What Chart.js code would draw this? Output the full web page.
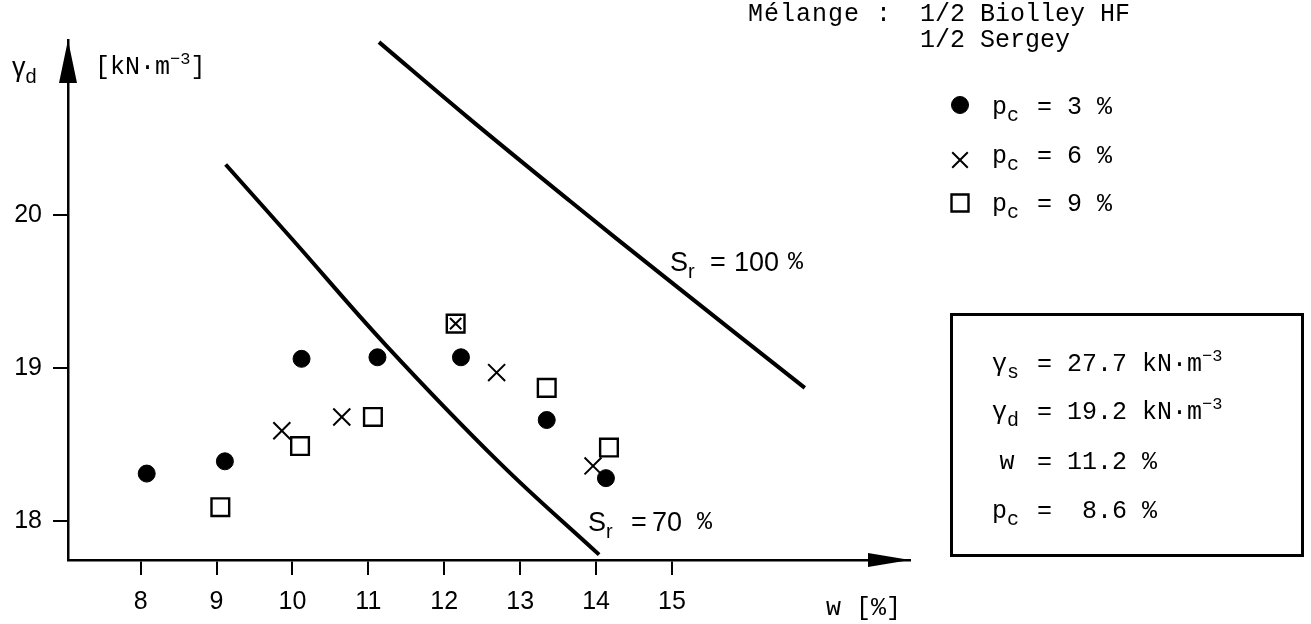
<!DOCTYPE html>
<html>
<head>
<meta charset="utf-8">
<title>Mélange 1/2 Biolley HF - 1/2 Sergey</title>
<script src="https://cdn.jsdelivr.net/npm/chart.js@4.4.0/dist/chart.umd.min.js"></script>
<style>
  html, body { margin: 0; padding: 0; background: #fff; }
  #wrap { position: relative; width: 1311px; height: 624px; overflow: hidden; }
  #chart { position: absolute; left: 0; top: 0; }
  .t { position: absolute; white-space: pre; line-height: 1; color: #000; }
  .mono { font-family: 'Liberation Mono', 'DejaVu Sans Mono', monospace; font-size: 25px; }
  .sans { font-family: 'Liberation Sans', Arial, sans-serif; font-size: 27px; }
  .sb { display: inline-block; width: 15px; font-size: 20px; position: relative; top: 7px; }
  .sp { font-size: 17px; position: relative; top: -10px; }
  #box { position: absolute; left: 950px; top: 313px; width: 354px; height: 244px;
         border: 3px solid #000; box-sizing: border-box; }
</style>
</head>
<body>
<div id="wrap">
  <canvas id="chart" width="1311" height="624"></canvas>
  <div id="box"></div>
</div>
<script>
// axis ticks
const xTicks = [8, 9, 10, 11, 12, 13, 14, 15];
const yTicks = [18, 19, 20];

// p_c = 3 %
const wPc3 = [8.08, 9.11, 10.12, 11.12, 12.22, 13.35, 14.13];
const gdPc3 = [18.31, 18.39, 19.06, 19.07, 19.07, 18.66, 18.28];

// p_c = 6 %  (the one at 12.15 sits inside a square)
const wPc6 = [9.86, 10.65, 12.15, 12.69, 13.96];
const gdPc6 = [18.59, 18.68, 19.29, 18.97, 18.36];

// p_c = 9 %
const wPc9 = [9.05, 10.10, 11.06, 12.15, 13.35, 14.17];
const gdPc9 = [18.09, 18.49, 18.68, 19.29, 18.87, 18.48];

// saturation curves
const wSr100 = [11.14, 12.33, 13.66, 14.84, 16.75];
const gdSr100 = [21.13, 20.63, 20.09, 19.62, 18.87];
const wSr70 = [9.12, 10.00, 11.23, 12.73, 14.04];
const gdSr70 = [20.33, 19.84, 19.15, 18.38, 17.78];

const toPoints = (xs, ys) => xs.map((x, i) => ({ x: x, y: ys[i] }));

const arrowsPlugin = {
  id: 'arrows',
  afterDraw(chart) {
    const ctx = chart.ctx;
    const a = chart.chartArea;
    ctx.save();
    ctx.fillStyle = '#000';
    // y axis arrow head
    ctx.beginPath();
    ctx.moveTo(a.left, a.top);
    ctx.lineTo(a.left - 9, a.top + 43);
    ctx.lineTo(a.left + 9, a.top + 43);
    ctx.closePath();
    ctx.fill();
    // x axis arrow head
    ctx.beginPath();
    ctx.moveTo(a.right, a.bottom);
    ctx.lineTo(a.right - 42, a.bottom - 7);
    ctx.lineTo(a.right - 42, a.bottom + 7);
    ctx.closePath();
    ctx.fill();

    // legend symbols
    const ds = chart.data.datasets;
    const rows = [[0, 105], [1, 160], [2, 203]];
    rows.forEach(([i, y]) => {
      const d = ds[i];
      ctx.fillStyle = d.backgroundColor;
      ctx.strokeStyle = d.borderColor;
      ctx.lineWidth = d.borderWidth;
      Chart.helpers.drawPoint(ctx, {
        pointStyle: d.pointStyle,
        radius: i === 0 ? 8.5 : (i === 1 ? 11 : 12),
        rotation: 0,
        borderWidth: d.borderWidth
      }, 960, y);
    });
    ctx.restore();
  }
};

new Chart(document.getElementById('chart'), {
  type: 'scatter',
  data: {
    datasets: [
      {
        label: 'pc = 3 %',
        data: toPoints(wPc3, gdPc3),
        pointStyle: 'circle',
        pointRadius: 8.5,
        backgroundColor: '#000',
        borderColor: '#000',
        borderWidth: 1
      },
      {
        label: 'pc = 6 %',
        data: toPoints(wPc6, gdPc6),
        pointStyle: 'crossRot',
        pointRadius: [12, 12, 8, 12, 12],
        backgroundColor: '#000',
        borderColor: '#000',
        borderWidth: 2
      },
      {
        label: 'pc = 9 %',
        data: toPoints(wPc9, gdPc9),
        pointStyle: 'rect',
        pointRadius: 12.5,
        backgroundColor: '#fff',
        borderColor: '#000',
        borderWidth: 2.4
      },
      {
        label: 'Sr = 100 %',
        data: toPoints(wSr100, gdSr100),
        showLine: true,
        pointRadius: 0,
        borderColor: '#000',
        borderWidth: 4,
        tension: 0.4
      },
      {
        label: 'Sr = 70 %',
        data: toPoints(wSr70, gdSr70),
        showLine: true,
        pointRadius: 0,
        borderColor: '#000',
        borderWidth: 4,
        tension: 0.4
      }
    ]
  },
  options: {
    responsive: false,
    animation: false,
    events: [],
    layout: { padding: { left: 0, top: 40, right: 401, bottom: 0 } },
    plugins: {
      legend: { display: false },
      tooltip: { enabled: false }
    },
    scales: {
      x: {
        type: 'linear',
        min: 7.043,
        max: 18.136,
        afterBuildTicks: (scale) => { scale.ticks = xTicks.map(v => ({ value: v })); },
        afterFit: (scale) => { scale.height = 64; },
        border: { display: true, color: '#000', width: 2.5 },
        grid: { drawOnChartArea: false, drawTicks: true, tickLength: 15, color: '#000', lineWidth: 2 },
        ticks: {
          color: '#000',
          padding: 12,
          maxRotation: 0,
          font: { family: 'Liberation Sans', size: 25 }
        }
      },
      y: {
        type: 'linear',
        min: 17.745,
        max: 21.144,
        afterBuildTicks: (scale) => { scale.ticks = yTicks.map(v => ({ value: v })); },
        afterFit: (scale) => { scale.width = 68; },
        border: { display: true, color: '#000', width: 2.5 },
        grid: { drawOnChartArea: false, drawTicks: true, tickLength: 15, color: '#000', lineWidth: 2 },
        ticks: {
          color: '#000',
          padding: 11,
          font: { family: 'Liberation Sans', size: 25 }
        }
      }
    }
  },
  plugins: [arrowsPlugin]
});

// text around the plot
const wrap = document.getElementById('wrap');
function put(x, y, html, cls) {
  const el = document.createElement('div');
  el.className = 't ' + cls;
  el.style.left = x + 'px';
  el.style.top = y + 'px';
  el.innerHTML = html;
  wrap.appendChild(el);
}

put(12, 54, 'γ<span class="sb">d</span>', 'sans');
put(95, 55, '[kN·m<span class="sp">−3</span>]', 'mono');

put(748, 2, '<span style="letter-spacing:1px">Mélange :</span>', 'mono');
put(920, 2, '1/2 Biolley HF', 'mono');
put(920, 28, '1/2 Sergey', 'mono');

put(992, 95, 'p<span class="sb">c</span> = 3 %', 'mono');
put(992, 144, 'p<span class="sb">c</span> = 6 %', 'mono');
put(992, 192, 'p<span class="sb">c</span> = 9 %', 'mono');

put(992, 352, 'γ<span class="sb">s</span> = 27.7 kN·m<span class="sp">−3</span>', 'mono');
put(992, 400, 'γ<span class="sb">d</span> = 19.2 kN·m<span class="sp">−3</span>', 'mono');
put(992, 450, '<span style="display:inline-block;width:30px;text-align:center">w</span> = 11.2 %', 'mono');
put(992, 499, 'p<span class="sb">c</span> =  8.6 %', 'mono');

put(670, 249, 'S<span class="sb">r</span>', 'sans');
put(710, 249, '=', 'sans');
put(734, 249, '100', 'sans');
put(788, 250, '%', 'mono');

put(588, 509, 'S<span class="sb">r</span>', 'sans');
put(631, 509, '=', 'sans');
put(652, 509, '70', 'sans');
put(697, 510, '%', 'mono');

put(826, 596, 'w [%]', 'mono');
</script>
</body>
</html>
